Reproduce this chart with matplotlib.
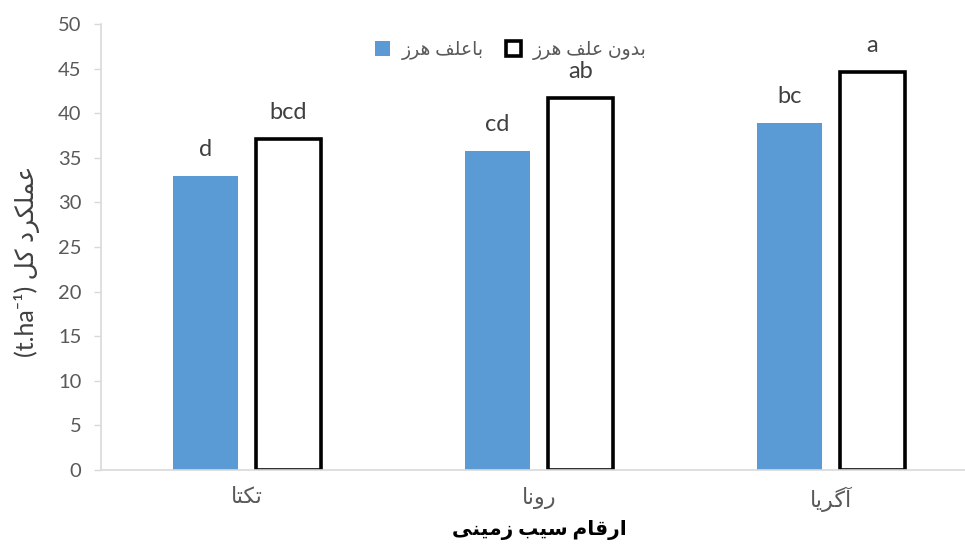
import matplotlib
matplotlib.use("Agg")
import matplotlib.pyplot as plt
import numpy as np

# data
cultivars = ["تکتا", "رونا", "آگریا"]
with_weed = [33.0, 35.8, 38.9]
weed_free = [37.1, 41.7, 44.6]
letters_with = ["d", "cd", "bc"]
letters_free = ["bcd", "ab", "a"]
legend_labels = ["باعلف هرز", "بدون علف هرز"]
x_title = "ارقام سیب زمینی"
y_title = "عملکرد کل"
y_unit = "(t.ha\u207b\u00b9)"

# matplotlib does no arabic shaping, so pick presentation forms by hand
# (isolated, final, initial, medial); 2-tuple = joins only to the right
FORMS = {
	"ا": ("\uFE8D", "\uFE8E"), "آ": ("\uFE81", "\uFE82"),
	"د": ("\uFEA9", "\uFEAA"), "ر": ("\uFEAD", "\uFEAE"),
	"ز": ("\uFEAF", "\uFEB0"), "و": ("\uFEED", "\uFEEE"),
	"ب": ("\uFE8F", "\uFE90", "\uFE91", "\uFE92"),
	"ت": ("\uFE95", "\uFE96", "\uFE97", "\uFE98"),
	"س": ("\uFEB1", "\uFEB2", "\uFEB3", "\uFEB4"),
	"ع": ("\uFEC9", "\uFECA", "\uFECB", "\uFECC"),
	"ف": ("\uFED1", "\uFED2", "\uFED3", "\uFED4"),
	"ق": ("\uFED5", "\uFED6", "\uFED7", "\uFED8"),
	"ل": ("\uFEDD", "\uFEDE", "\uFEDF", "\uFEE0"),
	"م": ("\uFEE1", "\uFEE2", "\uFEE3", "\uFEE4"),
	"ن": ("\uFEE5", "\uFEE6", "\uFEE7", "\uFEE8"),
	"ه": ("\uFEE9", "\uFEEA", "\uFEEB", "\uFEEC"),
	"ک": ("\uFB8E", "\uFB8F", "\uFB90", "\uFB91"),
	"گ": ("\uFB92", "\uFB93", "\uFB94", "\uFB95"),
	"ی": ("\uFBFC", "\uFBFD", "\uFBFE", "\uFBFF"),
}

def fa(s):
	out = []
	for i, ch in enumerate(s):
		if ch not in FORMS:
			out.append(ch)
			continue
		f = FORMS[ch]
		prev = i > 0 and s[i-1] in FORMS and len(FORMS[s[i-1]]) == 4
		nxt = len(f) == 4 and i+1 < len(s) and s[i+1] in FORMS
		if prev and nxt:
			out.append(f[3])
		elif prev:
			out.append(f[1])
		elif nxt:
			out.append(f[2])
		else:
			out.append(f[0])
	return "".join(reversed(out))

plt.rcParams['font.family'] = ['Lato', 'DejaVu Sans']

blue = "#5B9BD5"
grey = "#595959"

fig = plt.figure(figsize=(9.65, 5.48), dpi=100)
ax = fig.add_axes([101/965, 1-470/548, 876/965, 446/548])

xs = np.arange(len(cultivars))
w = 0.223
off = 0.142
ax.bar(xs - off, with_weed, w, color=blue, label=fa(legend_labels[0]))
ax.bar(xs + off, weed_free, w, color="white", edgecolor="black", linewidth=2.6,
	label=fa(legend_labels[1]))

for x, v, t in zip(xs - off, with_weed, letters_with):
	ax.annotate(t, (x, v), xytext=(0, 19), textcoords="offset points",
		ha="center", va="center", fontsize=17, color="#404040")
for x, v, t in zip(xs + off, weed_free, letters_free):
	ax.annotate(t, (x, v), xytext=(0, 19), textcoords="offset points",
		ha="center", va="center", fontsize=17, color="#404040")

ax.set_xlim(-0.5, 2.5)
ax.set_ylim(0, 50)
ax.set_yticks(range(0, 51, 5))
ax.set_xticks(xs)
ax.set_xticklabels([fa(c) for c in cultivars], fontsize=16, color=grey)
ax.tick_params(axis="y", labelsize=14.5, labelcolor=grey, color="#D9D9D9", length=5, width=1, pad=9)
ax.tick_params(axis="x", length=0, pad=12)
for s in ["top", "right"]:
	ax.spines[s].set_visible(False)
for s in ["left", "bottom"]:
	ax.spines[s].set_color("#D9D9D9")
	ax.spines[s].set_linewidth(1.2)

ax.set_xlabel(fa(x_title), fontsize=14.5, fontweight="bold", color="black")
ax.xaxis.set_label_coords(0.5, -0.113)
ax.set_ylabel(y_unit + " " + fa(y_title), fontsize=18, color="#404040")
ax.yaxis.set_label_coords(-0.07, 0.468)

ax.legend(loc="upper center", bbox_to_anchor=(0.468, 1.0), ncol=2, frameon=False,
	fontsize=13.5, handlelength=0.8, handleheight=0.8, columnspacing=1.2, handletextpad=0.6,
	labelcolor=grey)

fig.savefig("out.png", dpi=100)
